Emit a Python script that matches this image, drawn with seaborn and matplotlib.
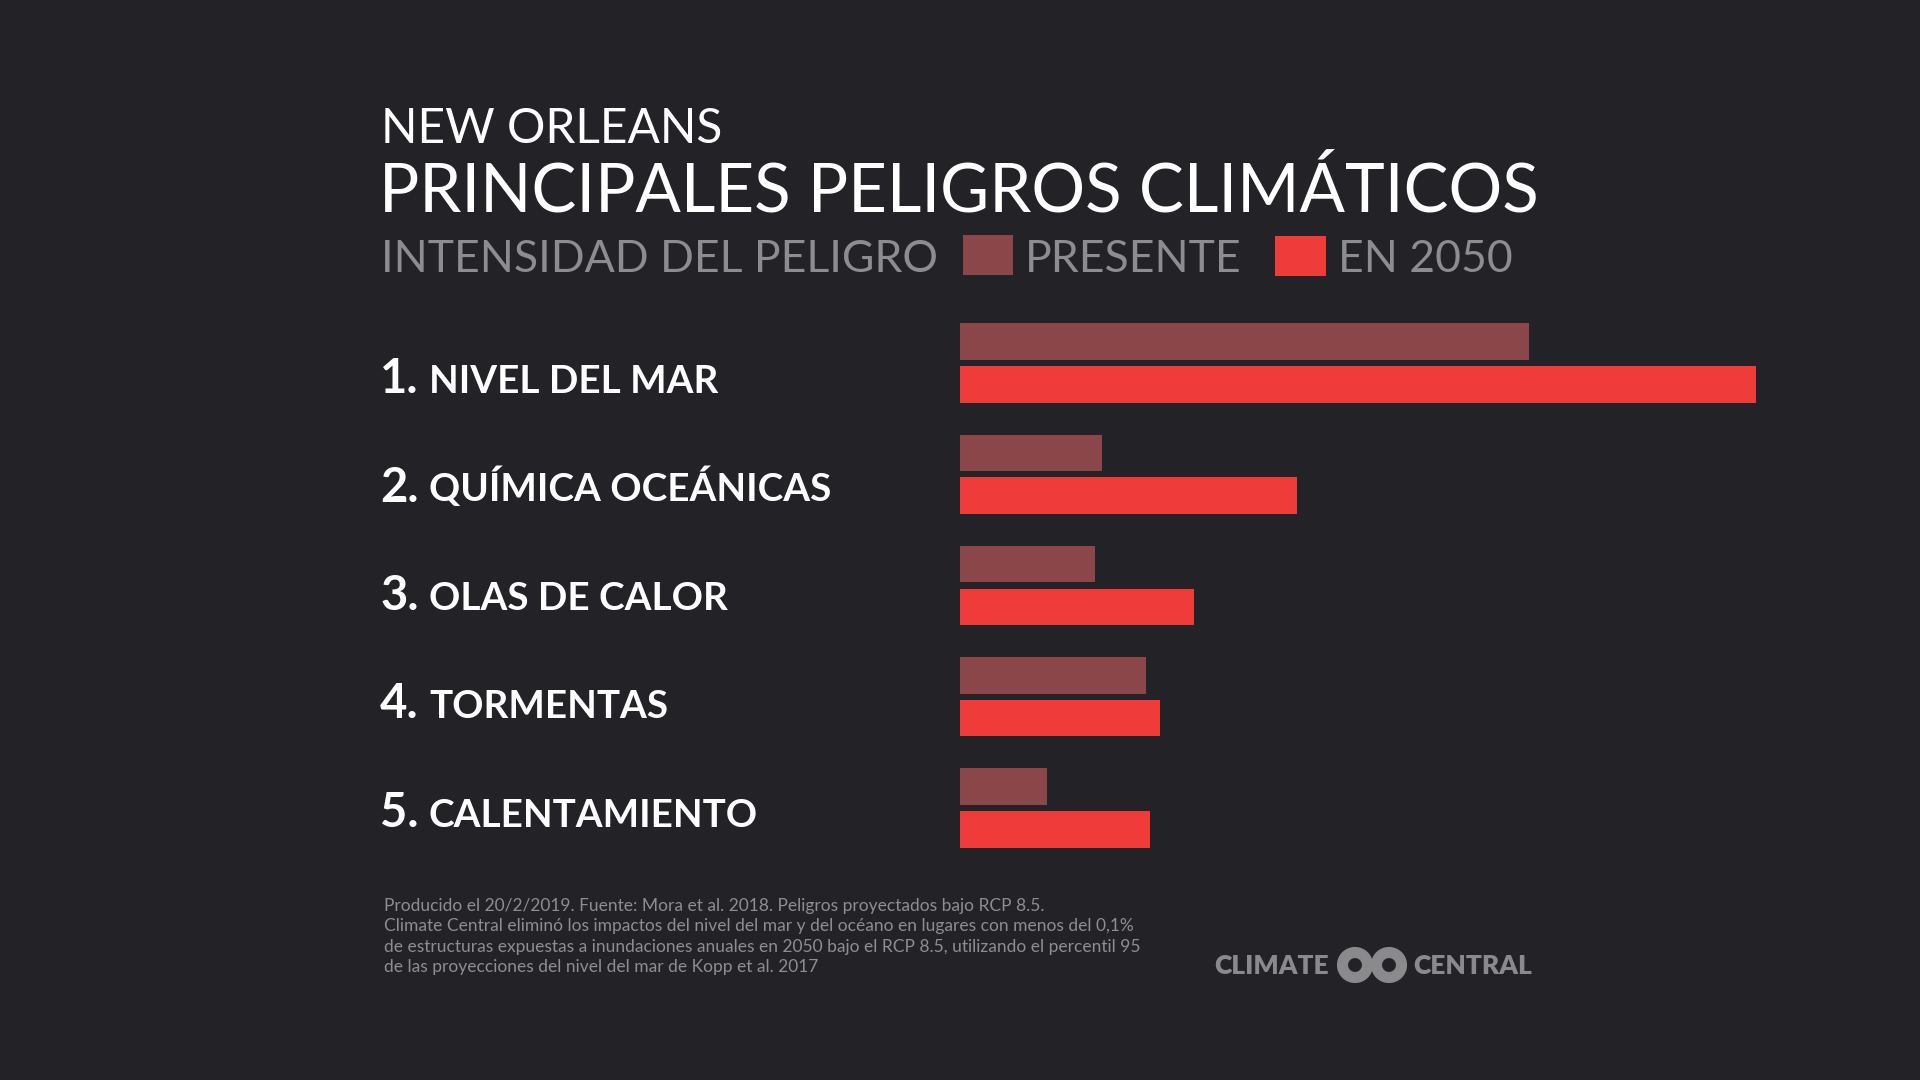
import pandas as pd
import matplotlib.pyplot as plt
import seaborn as sns
from matplotlib.patches import Rectangle, Circle

BG = "#232227"
PRESENT_COLOR = "#8b4649"
FUTURE_COLOR = "#ef3c3a"

# Hazard intensity (relative units, 2050 sea level = 100)
hazards = ["NIVEL DEL MAR", "QUÍMICA OCEÁNICAS", "OLAS DE CALOR", "TORMENTAS", "CALENTAMIENTO"]
present = [71.5, 17.8, 16.9, 23.4, 10.9]
en_2050 = [100.0, 42.3, 29.4, 25.1, 23.9]
periods = ["PRESENTE", "EN 2050"]

footnote = [
    "Producido el 20/2/2019. Fuente: Mora et al. 2018. Peligros proyectados bajo RCP 8.5.",
    "Climate Central eliminó los impactos del nivel del mar y del océano en lugares con menos del 0,1%",
    "de estructuras expuestas a inundaciones anuales en 2050 bajo el RCP 8.5, utilizando el percentil 95",
    "de las proyecciones del nivel del mar de Kopp et al. 2017",
]

df = pd.DataFrame({
    "hazard": hazards * 2,
    "period": [periods[0]] * len(hazards) + [periods[1]] * len(hazards),
    "value": present + en_2050,
})

sns.set_theme(style="white")
plt.rcParams["font.family"] = ["Lato", "DejaVu Sans"]

fig = plt.figure(figsize=(19.2, 10.8), dpi=100, facecolor=BG)

# overlay in pixel coordinates for titles, legend, labels and logo
deco = fig.add_axes([0, 0, 1, 1], zorder=0)
deco.set_xlim(0, 1920)
deco.set_ylim(1080, 0)
deco.axis("off")
deco.set_facecolor("none")

deco.text(381, 143, "NEW ORLEANS", color="white", fontsize=34.5, va="baseline")
deco.text(379, 212, "PRINCIPALES PELIGROS CLIMÁTICOS", color="white", fontsize=48.4, va="baseline")

# legend row
grey = "#8d8d8f"
deco.text(381, 272, "INTENSIDAD DEL PELIGRO", color=grey, fontsize=32, va="baseline")
deco.add_patch(Rectangle((963, 235), 50, 40, color=PRESENT_COLOR, lw=0))
deco.text(1025, 272, periods[0], color=grey, fontsize=32, va="baseline")
deco.add_patch(Rectangle((1275, 236), 51, 40, color=FUTURE_COLOR, lw=0))
deco.text(1338, 272, periods[1], color=grey, fontsize=32, va="baseline")

# category labels
for i, name in enumerate(hazards):
    base = 393 + i * 108.5
    deco.text(380, base, f"{i + 1}.", color="white", fontsize=34, fontweight="bold", va="baseline")
    deco.text(429, base, name, color="white", fontsize=27.8, fontweight="bold", va="baseline")

# footnote
for i, line in enumerate(footnote):
    deco.text(384, 911 + i * 20.3, line, color="#8e8e90", fontsize=12.5, va="baseline")

# logo
logo_grey = "#8a8a8c"
deco.text(1214, 974, "CLIMATE", color=logo_grey, fontsize=19, fontweight="heavy", va="baseline")
deco.text(1413, 974, "CENTRAL", color=logo_grey, fontsize=19, fontweight="heavy", va="baseline")
for cx in (1355, 1389):
    deco.add_patch(Circle((cx, 965), 12.5, fill=False, ec=logo_grey, lw=8))

# bars
ax = fig.add_axes([960 / 1920, 1 - 863.6 / 1080, 796 / 1920, 556.2 / 1080], zorder=1)
ax.set_facecolor("none")
sns.barplot(data=df, y="hazard", x="value", hue="period", order=hazards, hue_order=periods,
            orient="h", palette=[PRESENT_COLOR, FUTURE_COLOR], saturation=1,
            width=0.77, gap=0.145, legend=False, ax=ax, linewidth=0)
ax.set_xlim(0, 100)
ax.set_ylim(4.5, -0.5)
ax.set_xlabel("")
ax.set_ylabel("")
ax.set_xticks([])
ax.set_yticks([])
sns.despine(ax=ax, left=True, bottom=True)

fig.savefig("out.png", dpi=100, facecolor=BG)
